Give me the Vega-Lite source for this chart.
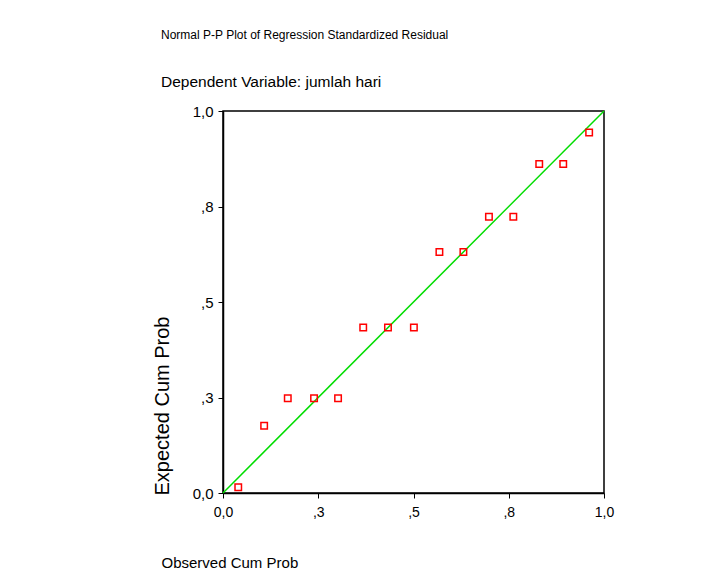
{
  "$schema": "https://vega.github.io/schema/vega-lite/v6.json",
  "width": 381,
  "height": 382,
  "autosize": {"type": "none"},
  "padding": {"left": 223, "top": 111, "right": 122, "bottom": 93},
  "background": "white",
  "title": {
    "text": "Normal P-P Plot of Regression Standardized Residual",
    "subtitle": "Dependent Variable: jumlah hari",
    "anchor": "start",
    "frame": "group",
    "dx": -62,
    "offset": 13,
    "font": "Liberation Sans",
    "fontSize": 12,
    "fontWeight": "normal",
    "color": "black",
    "subtitleFont": "Liberation Sans",
    "subtitleFontSize": 15.5,
    "subtitleColor": "black",
    "subtitlePadding": 33
  },
  "config": {
    "view": {"stroke": "black", "strokeWidth": 1.5, "fill": "white"},
    "axis": {
      "grid": false,
      "domainColor": "black",
      "domainWidth": 1.5,
      "tickColor": "black",
      "tickWidth": 1,
      "tickSize": 5,
      "labelFont": "Liberation Sans",
      "labelColor": "black",
      "titleFont": "Liberation Sans",
      "titleColor": "black",
      "titleFontWeight": "normal"
    }
  },
  "layer": [
    {
      "data": {"values": [{"px": 0, "py": 0}, {"px": 1, "py": 1}]},
      "mark": {"type": "line", "color": "#00dd00", "strokeWidth": 1.5},
      "encoding": {
        "x": {"field": "px", "type": "quantitative"},
        "y": {"field": "py", "type": "quantitative"}
      }
    },
    {
      "data": {"values": [
        {"observed": 0.040, "expected": 0.015},
        {"observed": 0.108, "expected": 0.176},
        {"observed": 0.170, "expected": 0.248},
        {"observed": 0.239, "expected": 0.248},
        {"observed": 0.302, "expected": 0.248},
        {"observed": 0.368, "expected": 0.433},
        {"observed": 0.433, "expected": 0.433},
        {"observed": 0.501, "expected": 0.433},
        {"observed": 0.568, "expected": 0.631},
        {"observed": 0.631, "expected": 0.631},
        {"observed": 0.698, "expected": 0.723},
        {"observed": 0.762, "expected": 0.723},
        {"observed": 0.830, "expected": 0.861},
        {"observed": 0.893, "expected": 0.861},
        {"observed": 0.961, "expected": 0.944}
      ]},
      "mark": {"type": "point", "shape": "square", "filled": false, "color": "#ff0000", "size": 42, "strokeWidth": 1.5, "opacity": 1},
      "encoding": {
        "x": {
          "field": "observed", "type": "quantitative",
          "scale": {"domain": [0, 1], "nice": false, "zero": false},
          "axis": {
            "title": "Observed Cum Prob",
            "titleFontSize": 15,
            "titleAnchor": "start",
            "titleAlign": "left",
            "titleX": -62,
            "titleY": 69,
            "titleBaseline": "middle",
            "values": [0, 0.25, 0.5, 0.75, 1],
            "labelExpr": "datum.value == 0 ? '0,0' : datum.value == 1 ? '1,0' : datum.value == 0.25 ? ',3' : datum.value == 0.5 ? ',5' : ',8'",
            "labelFontSize": 14,
            "labelPadding": 7,
            "labelFlush": false
          }
        },
        "y": {
          "field": "expected", "type": "quantitative",
          "scale": {"domain": [0, 1], "nice": false, "zero": false},
          "axis": {
            "title": "Expected Cum Prob",
            "titleFontSize": 20,
            "titleAnchor": "start",
            "titleAngle": -90,
            "titleAlign": "left",
            "titleBaseline": "middle",
            "titleX": -61,
            "titleY": 384,
            "values": [0, 0.25, 0.5, 0.75, 1],
            "labelExpr": "datum.value == 0 ? '0,0' : datum.value == 1 ? '1,0' : datum.value == 0.25 ? ',3' : datum.value == 0.5 ? ',5' : ',8'",
            "labelFontSize": 15,
            "labelPadding": 5,
            "labelFlush": false
          }
        }
      }
    }
  ]
}
